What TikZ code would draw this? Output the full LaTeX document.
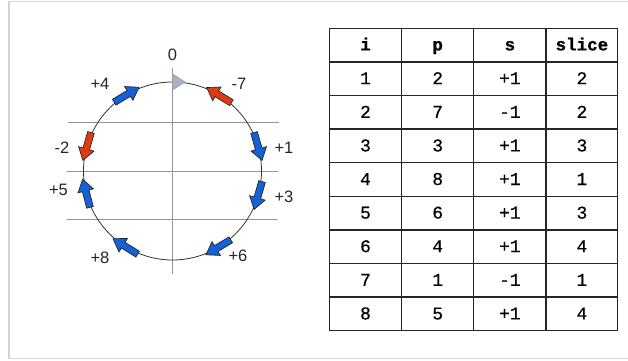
\documentclass[tikz,border=0pt]{standalone}
\usepackage{fontspec}
\setmainfont{Liberation Sans}
\newfontfamily\tabfont{Liberation Mono}[FakeBold=0.5]
\newfontfamily\tabhead{Liberation Mono}[BoldFeatures={FakeBold=0.8}]
\definecolor{arrblue}{HTML}{1462D6}
\definecolor{arrred}{HTML}{E03A12}
\definecolor{trifill}{HTML}{A3B3C8}
\begin{document}
\begin{tikzpicture}[x=1pt,y=1pt,
  lbl/.style={font=\fontsize{16.5}{18}\selectfont, inner sep=0, text=black!85},
  cell/.style={font=\tabfont\fontsize{18}{20}\selectfont, inner sep=0, anchor=base},
  hcell/.style={font=\tabhead\bfseries\fontsize{17.5}{19}\selectfont, inner sep=0, anchor=base},
  guide/.style={draw=black!42, line width=0.9},
  grid/.style={draw=black!85, line width=1.3},
  frame/.style={draw=black!17, line width=1.5},
  blue/.style={fill=arrblue, draw=black!85, line width=0.7, line join=miter},
  red/.style={fill=arrred, draw=black!85, line width=0.7, line join=miter},
  pics/barrow/.style={code={
    \draw[pic actions] (-14.5,-3.4) -- (2.5,-3.4) -- (2.5,-8) -- (14.5,0) -- (2.5,8) -- (2.5,3.4) -- (-14.5,3.4) -- cycle;
  }}
]
\useasboundingbox (0,0) rectangle (628,360);
% outer frame
\draw[frame] (640,358.3) -- (9,358.3) -- (9,1.7) -- (640,1.7);

% centre
\coordinate (C) at (172.5,189);
\coordinate (vt) at (172.5,292);
\coordinate (vb) at (172.5,86);
\coordinate (h1l) at (68,237.7);   \coordinate (h1r) at (279,237.7);
\coordinate (h2l) at (66.7,189);   \coordinate (h2r) at (277.7,189);
\coordinate (h3l) at (66.7,140.7); \coordinate (h3r) at (277,140.7);

\draw[guide] (vt) -- (vb);
\draw[guide] (h1l) -- (h1r);
\draw[guide] (h2l) -- (h2r);
\draw[guide] (h3l) -- (h3r);

\draw[draw=black!80, line width=0.8] (C) circle[radius=89];

% start marker
\coordinate (t1) at (172.5,286);
\coordinate (t2) at (172.5,270);
\coordinate (t3) at (185,278);
\draw[fill=trifill, draw=black!40, line width=0.6] (t1) -- (t2) -- (t3) -- cycle;

% arrows on the ring
\pic[red,  rotate=58.5+90]  at ([shift={(58.5:89)}]C)  {barrow};
\pic[blue, rotate=16-90]    at ([shift={(16:89)}]C)    {barrow};
\pic[blue, rotate=-16-90]   at ([shift={(-16:89)}]C)   {barrow};
\pic[blue, rotate=-59-90]   at ([shift={(-59:89)}]C)   {barrow};
\pic[blue, rotate=238-90]   at ([shift={(238:89)}]C)   {barrow};
\pic[blue, rotate=194.5-90] at ([shift={(194.5:89)}]C) {barrow};
\pic[red,  rotate=164+90]   at ([shift={(164:89)}]C)   {barrow};
\pic[blue, rotate=121-90]   at ([shift={(121:89)}]C)   {barrow};

% labels
\node[lbl] (l0) at (172.5,305) {0};
\node[lbl] (l4) at (100,276) {+4};
\node[lbl] (l7) at (239,276) {-7};
\node[lbl] (l1) at (284,212.5) {+1};
\node[lbl] (l2) at (62,212) {-2};
\node[lbl] (l3) at (284,163.3) {+3};
\node[lbl] (l5) at (58.5,170) {+5};
\node[lbl] (l6) at (238,104) {+6};
\node[lbl] (l8) at (100,102.5) {+8};

% table grid
\foreach \k in {0,...,9} {
  \draw[grid] (329.3,{331.7-33.6*\k}) -- (617.7,{331.7-33.6*\k});
}
\foreach \xx in {329.3,401.7,473.7,546,617.7} {
  \draw[grid] (\xx,331.7) -- (\xx,29.3);
}
% header
\node[hcell] (h-i) at (365.5,{331.7-16.8-5.3}) {i};
\node[hcell] (h-p) at (437.7,{331.7-16.8-5.3}) {p};
\node[hcell] (h-s) at (509.9,{331.7-16.8-5.3}) {s};
\node[hcell] (h-slice) at (581.9,{331.7-16.8-5.3}) {slice};
% body
\foreach \a/\b/\cc/\d [count=\r] in {1/2/+1/2, 2/7/-1/2, 3/3/+1/3, 4/8/+1/1, 5/6/+1/3, 6/4/+1/4, 7/1/-1/1, 8/5/+1/4} {
  \node[cell] (r\r-i) at (365.5,{331.7-16.8-33.6*\r-5.5}) {\a};
  \node[cell] (r\r-p) at (437.7,{331.7-16.8-33.6*\r-5.5}) {\b};
  \node[cell] (r\r-s) at (509.9,{331.7-16.8-33.6*\r-5.5}) {\cc};
  \node[cell] (r\r-slice) at (581.9,{331.7-16.8-33.6*\r-5.5}) {\d};
}
\end{tikzpicture}
\end{document}
